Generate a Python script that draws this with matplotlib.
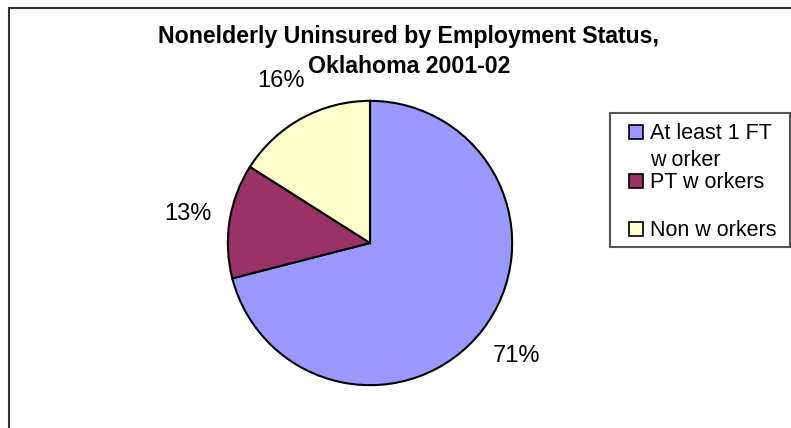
import matplotlib
matplotlib.use('Agg')
import matplotlib.pyplot as plt
from matplotlib.patches import Rectangle
from matplotlib.lines import Line2D

plt.rcParams['font.family'] = ['Liberation Sans', 'DejaVu Sans']

# data
labels = ['At least 1 FT\nw orker', 'PT w orkers', 'Non w orkers']
values = [71, 13, 16]
colors = ['#9999FF', '#993366', '#FFFFCC']
title = 'Nonelderly Uninsured by Employment Status,\nOklahoma 2001-02'

W, H = 791, 428
fig = plt.figure(figsize=(W / 100, H / 100), dpi=100)

# chart area border (top and left visible)
fig.add_artist(Line2D([9 / W, 9 / W], [0, 1 - 8 / H], color='#333333', lw=1.5))
fig.add_artist(Line2D([9 / W, 1], [1 - 8 / H, 1 - 8 / H], color='#333333', lw=1.5))

cx, cy, r = 370, 243, 145
ax = fig.add_axes([(cx - r) / W, (H - cy - r) / H, 2 * r / W, 2 * r / H])
wedges, texts, autotexts = ax.pie(values, colors=colors, startangle=90, counterclock=False,
                                  autopct='%1.0f%%', pctdistance=1.3, radius=1,
                                  wedgeprops=dict(edgecolor='black', linewidth=1.5))
for t in autotexts:
    t.set_fontsize(17)
ax.set_xlim(-1.02, 1.02)
ax.set_ylim(-1.02, 1.02)
ax.set_aspect('auto')
ax.axis('off')

# title
lines = title.split('\n')
fig.text(409 / W, 1 - 43 / H, lines[0], ha='center', va='baseline', fontsize=16.7, fontweight='bold')
fig.text(409 / W, 1 - 73 / H, lines[1], ha='center', va='baseline', fontsize=16.7, fontweight='bold')

# legend
fig.add_artist(Rectangle((610 / W, 1 - 247 / H), 180 / W, 134 / H, transform=fig.transFigure,
                         facecolor='white', edgecolor='#555555', lw=1.5))
ys = [132, 181, 229]
for lab, col, y in zip(labels, colors, ys):
    fig.add_artist(Rectangle((629 / W, 1 - (y + 7) / H), 14 / W, 14 / H, transform=fig.transFigure,
                             facecolor=col, edgecolor='black', lw=1.2))
    fig.text(650 / W, 1 - (y - 9) / H, lab, ha='left', va='top', fontsize=15.5, linespacing=1.35)

fig.savefig('out.png', dpi=100)
